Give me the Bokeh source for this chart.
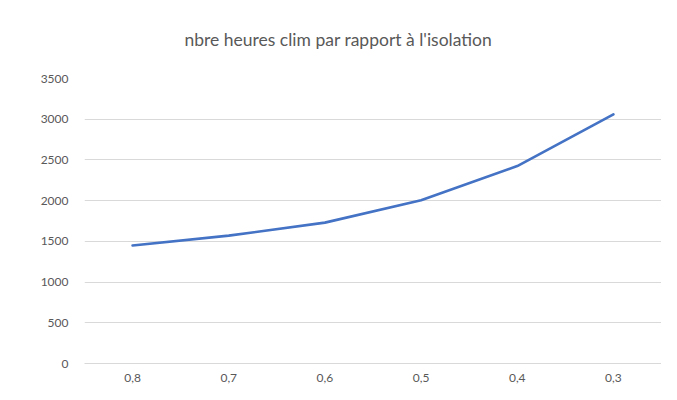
from bokeh.plotting import figure
from bokeh.models import FactorRange, Range1d, FixedTicker
from bokeh.embed import file_html
from bokeh.resources import INLINE

categories = ["0,8", "0,7", "0,6", "0,5", "0,4", "0,3"]
heures = [1450, 1570, 1730, 2005, 2425, 3060]
y_ticks = [0, 500, 1000, 1500, 2000, 2500, 3000, 3500]
title_text = "nbre heures clim par rapport à l'isolation"

FONT = "Lato"
GRAY = "#595959"

p = figure(width=661, height=384, output_backend="svg", toolbar_location=None,
           x_range=FactorRange(*categories, range_padding=0),
           y_range=Range1d(0, 3500), title=title_text)
p.min_border_left = 84
p.min_border_right = 0
p.min_border_top = 78
p.min_border_bottom = 19
p.outline_line_color = None
p.background_fill_color = "white"
p.border_fill_color = "white"

p.title.align = "left"
p.title.offset = 100
p.title.vertical_align = "top"
p.title.standoff = 54
p.title.text_font = FONT
p.title.text_font_size = "17.5px"
p.title.text_color = GRAY
p.title.text_font_style = "normal"

p.line(categories, heures, line_color="#4472C4", line_width=2.6, line_join="round", line_cap="round")

p.yaxis.ticker = FixedTicker(ticks=y_ticks)
p.yaxis.axis_line_color = None
p.yaxis.major_tick_line_color = None
p.yaxis.minor_tick_line_color = None
p.yaxis.major_label_text_font = FONT
p.yaxis.major_label_text_font_size = "12px"
p.yaxis.major_label_text_color = GRAY
p.yaxis.major_label_standoff = 10

p.xaxis.axis_line_color = "#d9d9d9"
p.xaxis.major_tick_line_color = None
p.xaxis.minor_tick_line_color = None
p.xaxis.major_label_text_font = FONT
p.xaxis.major_label_text_font_size = "12px"
p.xaxis.major_label_text_color = GRAY
p.xaxis.major_label_standoff = 4

p.xgrid.grid_line_color = None
p.ygrid.grid_line_color = "#d9d9d9"
p.ygrid.grid_line_width = 1

open("out.html", "w").write(file_html(p, INLINE))
